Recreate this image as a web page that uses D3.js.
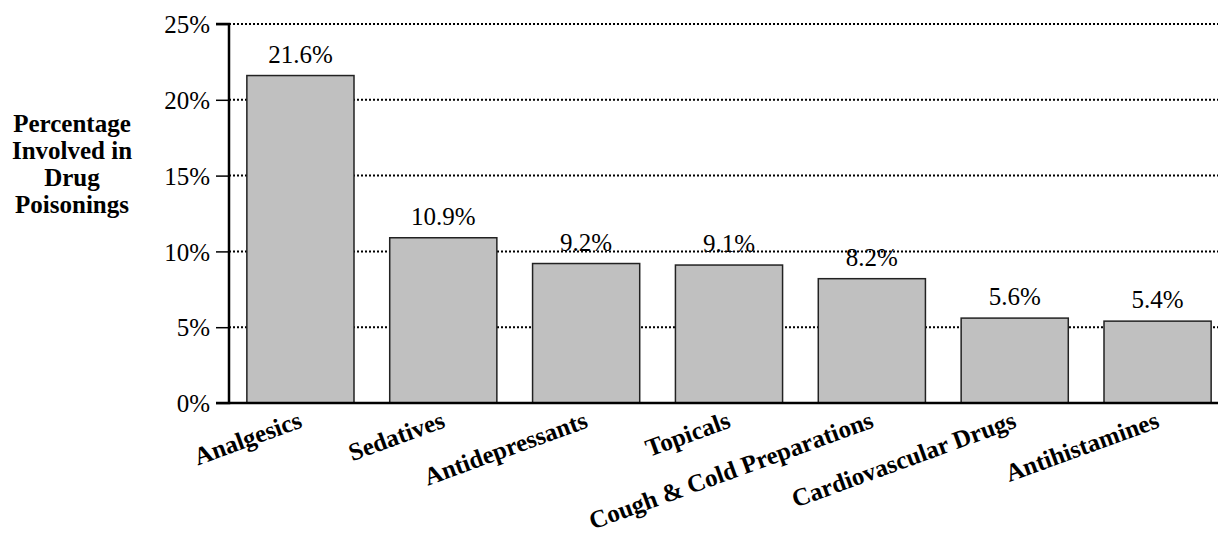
<!DOCTYPE html>
<html><head><meta charset="utf-8">
<script src="https://cdn.jsdelivr.net/npm/d3@7"></script>
<style>html,body{margin:0;padding:0;background:#fff;overflow:hidden} text{font-family:"Liberation Serif","Times New Roman",Times,serif}</style>
</head><body>
<svg id="c" width="1218" height="535"></svg>
<script>
const categories = ["Analgesics","Sedatives","Antidepressants","Topicals","Cough & Cold Preparations","Cardiovascular Drugs","Antihistamines"];
const values = [21.6,10.9,9.2,9.1,8.2,5.6,5.4];
const yTicks = [0,5,10,15,20,25];
const titleLines = ["Percentage","Involved in","Drug","Poisonings"];

const FONT = '"Liberation Serif","Times New Roman",Times,serif';
const svg = d3.select("#c");
const x0 = 229, x1 = 1229, yTop = 24, yBot = 403;
const x = d3.scaleBand().domain(categories).range([x0,x1]).paddingInner(0.25).paddingOuter(0.125);
const y = d3.scaleLinear().domain([0,25]).range([yBot,yTop]);

// gridlines
svg.append("g").selectAll("line").data(yTicks).join("line")
  .attr("x1", x0).attr("x2", 1218).attr("y1", d=>y(d)).attr("y2", d=>y(d))
  .attr("stroke","#000").attr("stroke-width",2).attr("stroke-dasharray","2,2");

// bars
svg.append("g").selectAll("rect").data(values).join("rect")
  .attr("x",(d,i)=>x(categories[i])).attr("width",x.bandwidth())
  .attr("y",d=>y(d)).attr("height",d=>y(0)-y(d))
  .attr("fill","#c0c0c0").attr("stroke","#222").attr("stroke-width",1.5);

// value labels
svg.append("g").selectAll("text").data(values).join("text")
  .attr("x",(d,i)=>x(categories[i])+x.bandwidth()/2).attr("y",d=>y(d)-13)
  .attr("text-anchor","middle").style("font-family",FONT).attr("font-size",25)
  .text(d=>d.toFixed(1)+"%");

// y axis
const yAxis = d3.axisLeft(y).tickValues(yTicks).tickFormat(d=>d+"%").tickSize(13).tickPadding(6);
const ga = svg.append("g").attr("transform",`translate(${x0},0)`).call(yAxis);
ga.attr("font-family",null).attr("font-size",null);
ga.select(".domain").attr("stroke","#000").attr("stroke-width",2.5).attr("d",`M-13,${yTop}H0V${yBot}H-13`);
ga.selectAll(".tick line").attr("stroke","#000").attr("stroke-width",1.5);
ga.selectAll(".tick text").style("font-family",FONT).attr("font-size",25).attr("fill","#000").attr("dy","0.35em");

// x axis baseline
svg.append("line").attr("x1",x0).attr("x2",1218).attr("y1",yBot).attr("y2",yBot).attr("stroke","#000").attr("stroke-width",2.5);

// category labels
svg.append("g").selectAll("text").data(categories).join("text")
  .attr("transform",d=>`translate(${x(d)+x.bandwidth()/2+3},${yBot+24}) rotate(-20)`)
  .attr("text-anchor","end").style("font-family",FONT).attr("font-weight","bold").attr("font-size",25)
  .text(d=>d);

// y title
svg.append("text").style("font-family",FONT).attr("font-weight","bold").attr("font-size",25)
  .attr("text-anchor","middle")
  .selectAll("tspan").data(titleLines).join("tspan")
  .attr("x",72).attr("y",(d,i)=>132+i*27).text(d=>d);
</script>
</body></html>
